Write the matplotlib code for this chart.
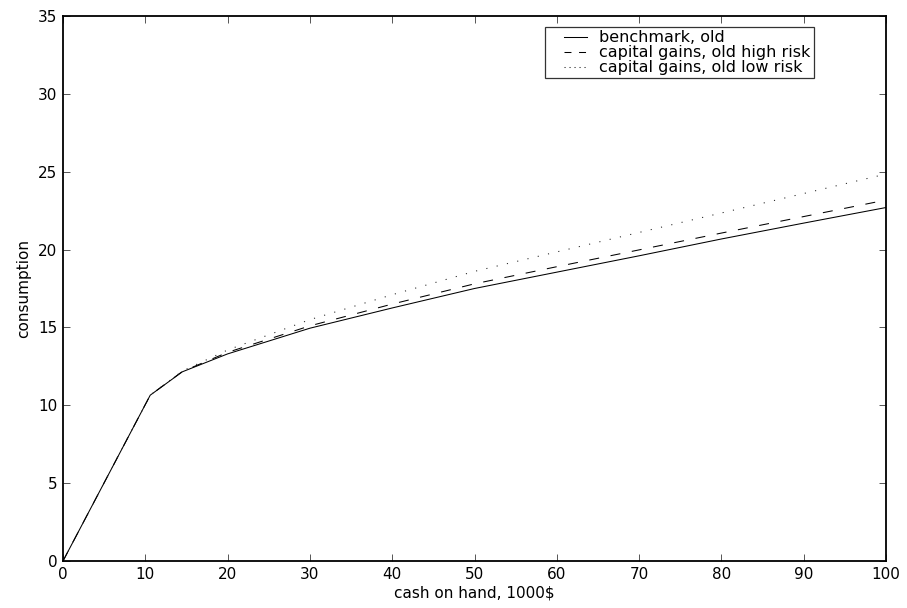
import matplotlib
matplotlib.use("Agg")
import matplotlib.pyplot as plt
from matplotlib.legend_handler import HandlerLine2D

plt.rcParams['font.family'] = ['DejaVu Sans']
plt.rcParams['lines.scale_dashes'] = False

# data
x_bench = [0, 10.6, 14.5, 20, 30, 40, 50, 60, 70, 80, 90, 100]
y_bench = [0, 10.65, 12.15, 13.3, 14.95, 16.25, 17.5, 18.55, 19.6, 20.68, 21.7, 22.7]

x_high = [0, 10.6, 14.5, 20, 30, 40, 50, 60, 70, 80, 90, 100]
y_high = [0, 10.65, 12.17, 13.4, 15.1, 16.5, 17.8, 18.9, 19.98, 21.06, 22.12, 23.18]

x_low = [0, 10.6, 14.5, 20, 30, 40, 50, 60, 70, 80, 90, 100]
y_low = [0, 10.65, 12.2, 13.55, 15.5, 17.1, 18.6, 19.85, 21.1, 22.35, 23.6, 24.85]

labels = ["benchmark, old", "capital gains, old high risk", "capital gains, old low risk"]
xticks = list(range(0, 101, 10))
yticks = list(range(0, 36, 5))

FS = 11
W, H = 907, 608
fig = plt.figure(figsize=(W / 100, H / 100), dpi=100)
ax = fig.add_axes([63 / W, (H - 561) / H, 823 / W, 545 / H])

lw = 0.75
l1, = ax.plot(x_bench, y_bench, color='black', lw=lw, linestyle='-', label=labels[0])
l2, = ax.plot(x_high, y_high, color='black', lw=lw, linestyle=(0, (7.2, 8.4)), label=labels[1])
l3, = ax.plot(x_low, y_low, color='#222222', lw=lw, linestyle=(0, (0.8, 6.8)), label=labels[2])

ax.set_xlim(0, 100)
ax.set_ylim(0, 35)
ax.set_xticks(xticks)
ax.set_yticks(yticks)
ax.tick_params(direction='in', length=5, width=0.7, labelsize=FS, top=True, right=True,
               color='#555555', pad=4.5)
ax.tick_params(axis='y', pad=4)
for s in ax.spines.values():
    s.set_linewidth(1.3)
    s.set_color('black')

ax.set_xlabel("cash on hand, 1000$", fontsize=FS, labelpad=2)
ax.set_ylabel("consumption", fontsize=FS, labelpad=5)

legend_dashes = {labels[0]: None, labels[1]: (0, (5.0, 5.5)), labels[2]: (0, (0.8, 2.8))}


def upd(handle, orig):
    handle.update_from(orig)
    ls = legend_dashes.get(orig.get_label())
    if ls is not None:
        handle.set_linestyle(ls)


handler = HandlerLine2D(xpad=1.0, update_func=upd)
leg = ax.legend(handles=[l1, l2, l3], loc='upper left',
                bbox_to_anchor=((545 - 63) / 823, (561 - 27) / 545),
                prop={'size': 11.5}, frameon=True, fancybox=False, edgecolor='black',
                handlelength=2.44, handletextpad=0.74, borderpad=0.2, labelspacing=0.0,
                borderaxespad=0, handler_map={l1: handler, l2: handler, l3: handler})
leg.get_frame().set_linewidth(0.9)

fig.savefig("out.png", dpi=100)
